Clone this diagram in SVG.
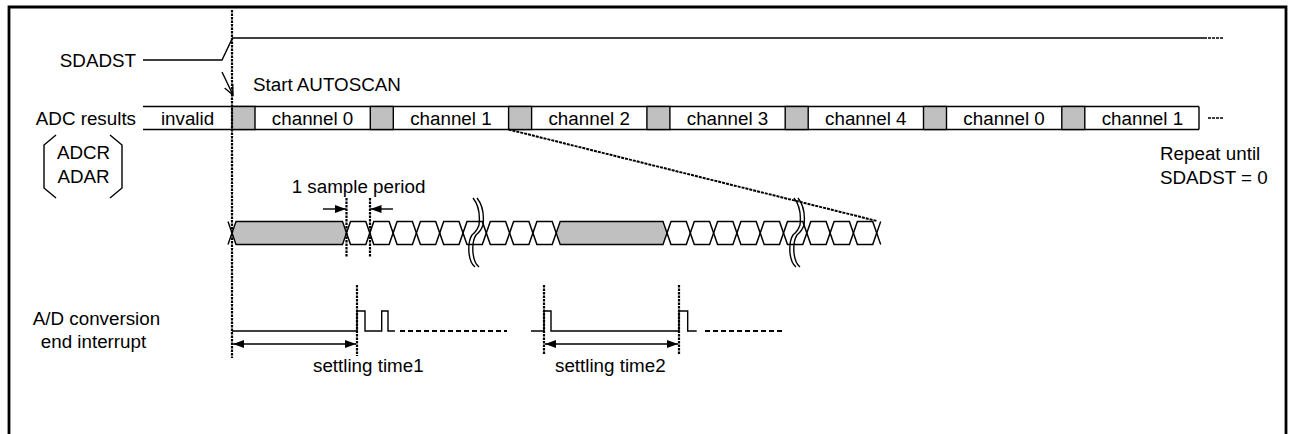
<svg xmlns="http://www.w3.org/2000/svg" xmlns:xlink="http://www.w3.org/1999/xlink" width="1293" height="434" viewBox="0 0 1293 434">
<style>
text{font-family:"Liberation Sans",Arial,sans-serif;font-size:18.8px;fill:#000}
.m{text-anchor:middle}
.e{text-anchor:end}
.ln{fill:none;stroke:#000;stroke-width:1.4}
.dot{fill:none;stroke:#000;stroke-width:2.2;stroke-dasharray:2.5,1}
.dash{fill:none;stroke:#000;stroke-width:2;stroke-dasharray:5,3}
.gray{fill:#c0c0c0;stroke:#000;stroke-width:1.4}
.cell{fill:none;stroke:#000;stroke-width:1.5}
</style>
<defs>
<marker id="af" markerUnits="userSpaceOnUse" markerWidth="12" markerHeight="8" refX="11" refY="4" orient="auto-start-reverse">
<path d="M0,0 L11,4 L0,8 Z" fill="#000"/>
</marker>
<marker id="ao" markerUnits="userSpaceOnUse" markerWidth="12" markerHeight="10" refX="10" refY="5" orient="auto">
<path d="M0,0.5 L10,5 L0,9.5" fill="none" stroke="#000" stroke-width="1.3"/>
</marker>
<path id="cellp" d="M0,0 L4,-11.5 L19.3,-11.5 L23.3,0 L19.3,11.5 L4,11.5 Z"/>
<path id="brk" d="M-3,-35 Q5,-25 3,-8 Q1,-2 -4,2 Q-8,8 -7,20 Q-6,30 -1,34"/>
</defs>

<g id="frame"><path d="M9,434 V7 H1286 V434" fill="none" stroke="#000" stroke-width="2.8"/></g>

<g id="labels">
<text class="e" x="136" y="67">SDADST</text>
<text x="253" y="90.5">Start AUTOSCAN</text>
<text class="e" x="136" y="125">ADC results</text>
<text class="m" x="83.5" y="159">ADCR</text>
<text class="m" x="83.5" y="183">ADAR</text>
<text x="1160" y="160">Repeat until</text>
<text x="1160" y="184">SDADST = 0</text>
<text x="291.7" y="193">1 sample period</text>
<text class="m" x="96.5" y="325">A/D conversion</text>
<text class="m" x="93.5" y="348">end interrupt</text>
<text x="313" y="372">settling time1</text>
<text x="555" y="372">settling time2</text>
</g>

<g id="brackets">
<path class="ln" d="M56,135 L44,145 V188 L56,198"/>
<path class="ln" d="M110,135 L122,145 V188 L110,198"/>
</g>

<g id="sdadst-signal">
<path class="ln" d="M143,60 H222 L232.5,38 H1207"/>
<path d="M1208,38 H1223" fill="none" stroke="#000" stroke-width="1.6" stroke-dasharray="3,1"/>
</g>

<g id="adc-row">
<path class="ln" d="M143,106.5 H1199 M143,129.5 H1199"/>
<rect class="gray" x="232" y="106.5" width="23" height="23"/>
<rect class="gray" x="370.3" y="106.5" width="23" height="23"/>
<rect class="gray" x="508.6" y="106.5" width="23" height="23"/>
<rect class="gray" x="646.9" y="106.5" width="23" height="23"/>
<rect class="gray" x="785.2" y="106.5" width="23" height="23"/>
<rect class="gray" x="923.5" y="106.5" width="23" height="23"/>
<rect class="gray" x="1061.8" y="106.5" width="23" height="23"/>
<path class="ln" d="M1199,106.5 V129.5"/>
<text class="m" x="187.5" y="125">invalid</text>
<text class="m" x="312.6" y="125">channel 0</text>
<text class="m" x="450.9" y="125">channel 1</text>
<text class="m" x="589.2" y="125">channel 2</text>
<text class="m" x="727.5" y="125">channel 3</text>
<text class="m" x="865.8" y="125">channel 4</text>
<text class="m" x="1004.1" y="125">channel 0</text>
<text class="m" x="1142.4" y="125">channel 1</text>
<path d="M1208,118 H1223" fill="none" stroke="#000" stroke-width="1.6" stroke-dasharray="3,1"/>
</g>

<g id="waveform">
<path class="ln" d="M228,221.5 L232,233 L228,244.5"/>
<path class="gray" d="M232,233 L236,221.5 L342.5,221.5 L346.5,233 L342.5,244.5 L236,244.5 Z"/>
<use href="#cellp" xlink:href="#cellp" class="cell" x="346.5" y="233"/>
<use href="#cellp" xlink:href="#cellp" class="cell" x="369.8" y="233"/>
<use href="#cellp" xlink:href="#cellp" class="cell" x="393.1" y="233"/>
<use href="#cellp" xlink:href="#cellp" class="cell" x="416.4" y="233"/>
<use href="#cellp" xlink:href="#cellp" class="cell" x="439.7" y="233"/>
<use href="#cellp" xlink:href="#cellp" class="cell" x="463" y="233"/>
<use href="#cellp" xlink:href="#cellp" class="cell" x="486.3" y="233"/>
<use href="#cellp" xlink:href="#cellp" class="cell" x="509.6" y="233"/>
<use href="#cellp" xlink:href="#cellp" class="cell" x="532.9" y="233"/>
<path class="gray" d="M556.2,233 L560.2,221.5 L663,221.5 L667,233 L663,244.5 L560.2,244.5 Z"/>
<use href="#cellp" xlink:href="#cellp" class="cell" x="667" y="233"/>
<use href="#cellp" xlink:href="#cellp" class="cell" x="690.3" y="233"/>
<use href="#cellp" xlink:href="#cellp" class="cell" x="713.6" y="233"/>
<use href="#cellp" xlink:href="#cellp" class="cell" x="736.9" y="233"/>
<use href="#cellp" xlink:href="#cellp" class="cell" x="760.2" y="233"/>
<use href="#cellp" xlink:href="#cellp" class="cell" x="783.5" y="233"/>
<use href="#cellp" xlink:href="#cellp" class="cell" x="806.8" y="233"/>
<use href="#cellp" xlink:href="#cellp" class="cell" x="830.1" y="233"/>
<use href="#cellp" xlink:href="#cellp" class="cell" x="853.4" y="233"/>
<path class="ln" d="M880.7,221.5 L876.7,233 L880.7,244.5"/>
<use href="#brk" xlink:href="#brk" class="ln" x="476" y="233"/>
<use href="#brk" xlink:href="#brk" class="ln" x="480" y="233"/>
<use href="#brk" xlink:href="#brk" class="ln" x="797" y="233"/>
<use href="#brk" xlink:href="#brk" class="ln" x="801" y="233"/>
</g>

<g id="interrupt-signal">
<path class="ln" d="M232,331 H357 V311 H365 V331 H381.7 V311 H388 V331 H395"/>
<path class="dash" d="M400,331 H507"/>
<path class="ln" d="M531,331 H544 V311 H551 V331 H679 V311 H687.7 V331 H696.7"/>
<path class="dash" d="M705,331 H782"/>
</g>

<g id="connectors">
<path class="dot" d="M232,10 V358"/>
<path class="dot" d="M346.5,198 V257 M370,198 V257"/>
<path class="dot" d="M357,285 V356 M544,285 V354 M679,285 V354"/>
<path d="M508.6,129.5 L877,221" fill="none" stroke="#000" stroke-width="2" stroke-dasharray="3,1"/>
<path class="ln" d="M222,72 L233,95" marker-end="url(#ao)"/>
<path class="ln" d="M323,209 H346" marker-end="url(#af)"/>
<path class="ln" d="M393,209 H370.5" marker-end="url(#af)"/>
<path class="ln" d="M233,344 H356" marker-start="url(#af)" marker-end="url(#af)"/>
<path class="ln" d="M545,344 H678" marker-start="url(#af)" marker-end="url(#af)"/>
</g>
</svg>
